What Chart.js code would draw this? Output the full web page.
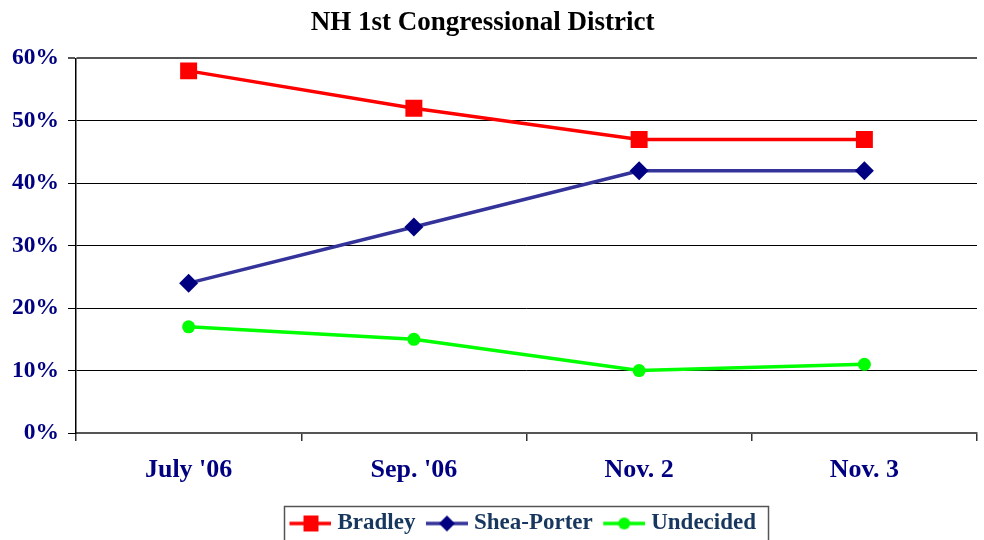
<!DOCTYPE html>
<html>
<head>
<meta charset="utf-8">
<script src="https://cdn.jsdelivr.net/npm/chart.js@4.4.0/dist/chart.umd.min.js"></script>
<style>
  html, body { margin: 0; padding: 0; background: #fff; }
  #wrap { width: 984px; height: 540px; position: relative; }
</style>
</head>
<body>
<div id="wrap"><canvas id="chart"></canvas></div>
<script>
// data poll
const kategori = ["July '06", "Sep. '06", 'Nov. 2', 'Nov. 3'];
const bradley = [58, 52, 47, 47];
const sheaPorter = [24, 33, 42, 42];
const undecided = [17, 15, 10, 11];
const tickY = [0, 10, 20, 30, 40, 50, 60];

const serif = "'Liberation Serif', 'Times New Roman', serif";

// gambar ikon legenda: garis + marker (52 px, garis di 10..52)
function buatIkon(warnaGaris, warnaMarker, bentuk) {
    const c = document.createElement('canvas');
    c.width = 52; c.height = 20;
    const g = c.getContext('2d');
    g.strokeStyle = warnaGaris;
    g.lineWidth = 3.5;
    g.beginPath(); g.moveTo(10, 10); g.lineTo(52, 10); g.stroke();
    g.fillStyle = warnaMarker;
    if (bentuk === 'kotak') {
        g.fillRect(24, 2, 15, 16);
    } else if (bentuk === 'belah') {
        g.beginPath(); g.moveTo(31, 2); g.lineTo(39, 10); g.lineTo(31, 18); g.lineTo(23, 10); g.closePath(); g.fill();
    } else {
        g.beginPath(); g.arc(31, 10, 6, 0, Math.PI * 2); g.fill();
    }
    return c;
}

const ikon = [
    buatIkon('#ff0000', '#ff0000', 'kotak'),
    buatIkon('#333399', '#000080', 'belah'),
    buatIkon('#00ff00', '#00ff00', 'bulat')
];

// geser judul & legenda sedikit, lalu kotak di sekitar legenda
const geserDanKotak = {
    id: 'geserDanKotak',
    afterLayout(chart) {
        chart.titleBlock.left -= 6;
        chart.titleBlock.right -= 6;
        chart.legend.left -= 6;
        chart.legend.right -= 6;
        chart.legend.top += 5;
        chart.legend.bottom += 5;
    },
    afterDraw(chart) {
        const ctx = chart.ctx;
        ctx.save();
        ctx.strokeStyle = '#555';
        ctx.lineWidth = 1.5;
        ctx.strokeRect(284.5, chart.legend.top + 0.5, 484, 40);
        ctx.restore();
    }
};

new Chart(document.getElementById('chart'), {
    type: 'line',
    data: {
        labels: kategori,
        datasets: [
            {
                label: 'Bradley',
                data: bradley,
                borderColor: '#ff0000',
                backgroundColor: '#ff0000',
                borderWidth: 3.5,
                pointStyle: 'rect',
                pointRadius: 12,
                pointHoverRadius: 12,
                pointBorderWidth: 0
            },
            {
                label: 'Shea-Porter',
                data: sheaPorter,
                borderColor: '#333399',
                backgroundColor: '#000080',
                borderWidth: 3.5,
                pointStyle: 'rectRot',
                pointRadius: 9.5,
                pointHoverRadius: 9.5,
                pointBorderWidth: 0
            },
            {
                label: 'Undecided',
                data: undecided,
                borderColor: '#00ff00',
                backgroundColor: '#00ff00',
                borderWidth: 3.5,
                pointStyle: 'circle',
                pointRadius: 6.5,
                pointHoverRadius: 6.5,
                pointBorderWidth: 0
            }
        ]
    },
    options: {
        responsive: true,
        maintainAspectRatio: false,
        animation: false,
        layout: { autoPadding: false, padding: { left: 0, right: 7, top: 4, bottom: 0 } },
        plugins: {
            title: {
                display: true,
                text: 'NH 1st Congressional District',
                color: '#000',
                font: { family: serif, size: 27, weight: 'bold' },
                padding: { top: 3, bottom: 19 }
            },
            legend: {
                position: 'bottom',
                fullSize: false,
                labels: {
                    usePointStyle: true,
                    pointStyleWidth: 41,
                    padding: 6,
                    color: '#17375e',
                    font: { family: serif, size: 23, weight: 'bold' },
                    generateLabels(chart) {
                        return chart.data.datasets.map((ds, i) => ({
                            text: ds.label,
                            pointStyle: ikon[i],
                            fillStyle: ds.backgroundColor,
                            strokeStyle: ds.borderColor,
                            lineWidth: 0,
                            fontColor: '#17375e',
                            datasetIndex: i,
                            hidden: false
                        }));
                    }
                }
            },
            tooltip: { enabled: false }
        },
        scales: {
            x: {
                offset: true,
                grid: {
                    offset: true,
                    drawOnChartArea: false,
                    drawTicks: true,
                    tickLength: 8,
                    color: '#333',
                    lineWidth: 1.5
                },
                border: { color: '#555', width: 2 },
                ticks: {
                    color: '#000080',
                    padding: 14,
                    font: { family: serif, size: 26, weight: 'bold' }
                },
                afterFit(scale) { scale.height = 68; }
            },
            y: {
                min: 0,
                max: 60,
                afterBuildTicks(scale) {
                    scale.ticks = tickY.map(v => ({ value: v }));
                },
                grid: {
                    color: (c) => c.tick && c.tick.value === 60 ? '#555' : '#000',
                    lineWidth: (c) => c.tick && c.tick.value === 60 ? 2 : 1,
                    drawTicks: true,
                    tickLength: 8
                },
                border: { color: '#000', width: 1.5 },
                ticks: {
                    color: '#000080',
                    padding: 9,
                    font: { family: serif, size: 23.5, weight: 'bold' },
                    callback: (v) => v + '%'
                },
                afterFit(scale) { scale.width = 76; }
            }
        }
    },
    plugins: [geserDanKotak]
});
</script>
</body>
</html>
